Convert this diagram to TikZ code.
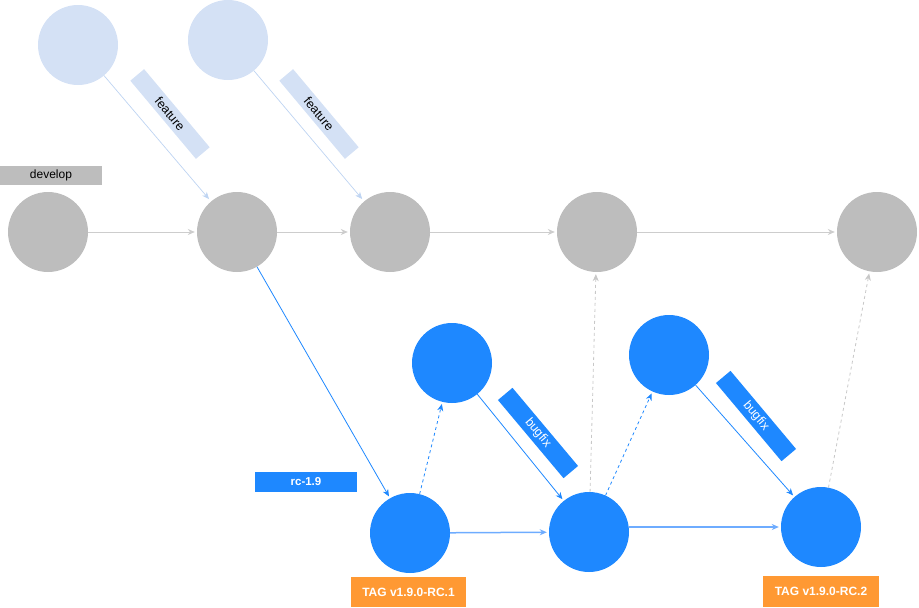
\documentclass[tikz,border=0pt]{standalone}
\usepackage{fontspec}
\setmainfont{Liberation Sans}
\usetikzlibrary{arrows.meta}
\definecolor{devgray}{RGB}{189,189,189}
\definecolor{devline}{RGB}{205,205,205}
\definecolor{featblue}{RGB}{212,225,245}
\definecolor{featline}{RGB}{190,212,242}
\definecolor{relblue}{RGB}{30,136,255}
\definecolor{rellight}{RGB}{110,172,255}
\definecolor{tagorange}{RGB}{255,153,51}
\definecolor{dashgray}{RGB}{200,200,200}
\begin{document}
\begin{tikzpicture}[x=1pt,y=-1pt,
  commit/.style={circle, minimum size=80pt, inner sep=0pt, draw=none},
  devc/.style={commit, fill=devgray},
  featc/.style={commit, fill=featblue},
  relc/.style={commit, fill=relblue},
  tip/.style={-{Stealth[length=7pt,width=6pt,inset=2.2pt]}},
  devedge/.style={tip, draw=devline, line width=1pt, shorten >=2pt},
  featedge/.style={tip, draw=featline, line width=0.7pt, shorten >=3pt},
  reledge/.style={tip, draw=relblue, line width=0.8pt, shorten >=2pt},
  relhoriz/.style={tip, draw=rellight, line width=1.5pt, shorten >=2pt},
  reldash/.style={tip, draw=relblue, line width=0.8pt, dashed, shorten >=2pt},
  graydash/.style={tip, draw=dashgray, line width=0.8pt, dashed, shorten >=2pt},
  flatbox/.style={inner sep=0pt, minimum width=102pt, minimum height=19pt, font=\fontsize{11}{13}\selectfont},
  slantbox/.style={flatbox, rotate=-50, minimum height=18pt, font=\fontsize{12.5}{14}\selectfont},
  tagbox/.style={fill=tagorange, text=white, inner sep=0pt, minimum width=116pt, minimum height=31pt, font=\bfseries\fontsize{12}{14}\selectfont}
]
\useasboundingbox (0,0) rectangle (919,608);

% feature commits
\node[featc] (f1) at (78,45) {};
\node[featc] (f2) at (228,40) {};
% develop commits
\node[devc] (d1) at (48,232) {};
\node[devc] (d2) at (237,232) {};
\node[devc] (d3) at (390,232) {};
\node[devc] (d4) at (597,232) {};
\node[devc] (d5) at (877,232) {};
% release commits
\node[relc] (b1) at (410,533) {};
\node[relc] (b2) at (452,363) {};
\node[relc] (b3) at (589,532) {};
\node[relc] (b4) at (669,355) {};
\node[relc] (b5) at (821,527) {};

% labels
\node[flatbox, fill=devgray, font=\fontsize{12}{14}\selectfont] (ldev) at (51,175.5) {develop};
\node[slantbox, fill=featblue] (lf1) at (170,114) {feature};
\node[slantbox, fill=featblue] (lf2) at (319,114) {feature};
\node[flatbox, fill=relblue, text=white, minimum height=20pt, font=\bfseries\fontsize{11.5}{13}\selectfont] (lrc) at (306,482) {rc-1.9};
\node[slantbox, fill=relblue, text=white, minimum height=19pt] (lb1) at (538,433) {bugfix};
\node[slantbox, fill=relblue, text=white, minimum height=19pt] (lb2) at (756,416) {bugfix};
\node[tagbox, minimum width=115pt, minimum height=30pt] (t1) at (408.5,592) {TAG v1.9.0-RC.1};
\node[tagbox] (t2) at (821,591.5) {TAG v1.9.0-RC.2};

% develop edges
\draw[devedge] (d1) -- (d2);
\draw[devedge] (d2) -- (d3);
\draw[devedge] (d3) -- (d4);
\draw[devedge] (d4) -- (d5);
% feature edges
\draw[featedge] (f1) -- (d2);
\draw[featedge] (f2) -- (d3);
% release edges
\draw[reledge] (d2) -- (b1);
\draw[relhoriz] (b1) -- (b3);
\draw[reldash] (b1) -- (b2);
\draw[reledge] (b2) -- (b3);
\draw[relhoriz] (b3.east |- b5) -- (b5);
\draw[reldash] (b3) -- (b4);
\draw[reledge] (b4) -- (b5);
% merge back
\draw[graydash] (b3) -- (d4);
\draw[graydash] (b5) -- (d5);
\end{tikzpicture}
\end{document}
